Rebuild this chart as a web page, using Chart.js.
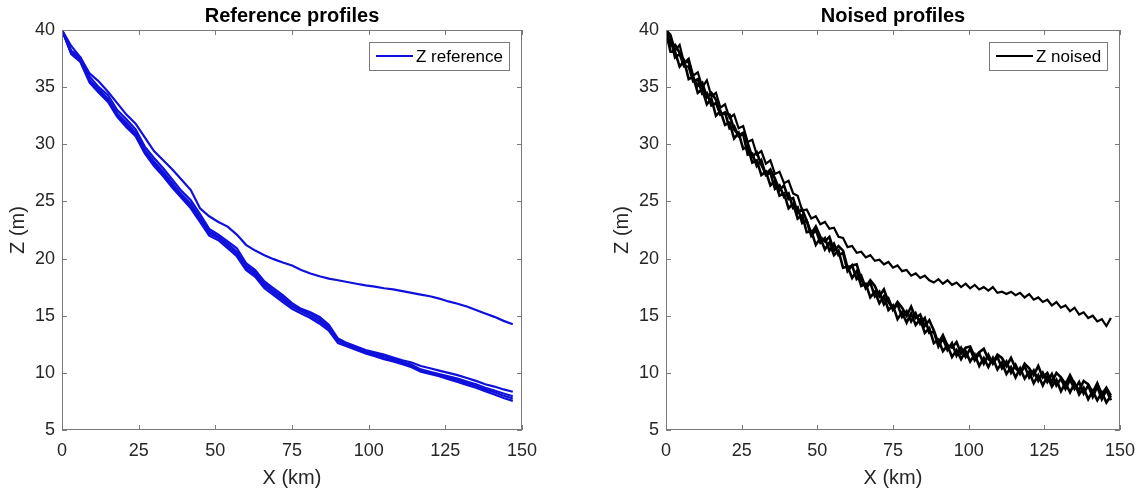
<!DOCTYPE html>
<html>
<head>
<meta charset="utf-8">
<script src="https://cdn.jsdelivr.net/npm/chart.js@4.4.1/dist/chart.umd.min.js"></script>
<style>
  body { margin: 0; background: #fff; }
  .panel { position: absolute; top: 0; height: 495px; }
  #left { left: 0; width: 584px; }
  #right { left: 604px; width: 541px; }
</style>
</head>
<body>
<div class="panel" id="left"><canvas id="refChart"></canvas></div>
<div class="panel" id="right"><canvas id="noiseChart"></canvas></div>
<script>
const X_TICKS = [0, 25, 50, 75, 100, 125, 150];
const Y_TICKS = [5, 10, 15, 20, 25, 30, 35, 40];

// distance along profile (km)
const xRef = [0,3,6,9,12,15,18,21,24,27,30,33,36,39,42,45,48,51,54,57,60,63,66,69,72,75,78,81,84,87,90,93,96,99,102,105,108,111,114,117,120,123,126,129,132,135,138,141,144,147];
const xNoise = [0,1.5,3,4.5,6,7.5,9,10.5,12,13.5,15,16.5,18,19.5,21,22.5,24,25.5,27,28.5,30,31.5,33,34.5,36,37.5,39,40.5,42,43.5,45,46.5,48,49.5,51,52.5,54,55.5,57,58.5,60,61.5,63,64.5,66,67.5,69,70.5,72,73.5,75,76.5,78,79.5,81,82.5,84,85.5,87,88.5,90,91.5,93,94.5,96,97.5,99,100.5,102,103.5,105,106.5,108,109.5,111,112.5,114,115.5,117,118.5,120,121.5,123,124.5,126,127.5,129,130.5,132,133.5,135,136.5,138,139.5,141,142.5,144,145.5,147];

// reference profiles (m)
const zRefUpper = [40.0,38.6,37.6,36.2,35.5,34.6,33.6,32.6,31.8,30.6,29.4,28.6,27.8,26.9,26.0,24.4,23.7,23.2,22.8,22.1,21.2,20.7,20.3,19.95,19.65,19.4,19.0,18.7,18.45,18.25,18.1,17.95,17.8,17.65,17.55,17.4,17.3,17.15,17.0,16.85,16.7,16.5,16.25,16.05,15.8,15.5,15.2,14.9,14.55,14.25];
const zRefLow1 = [40.0,38.2,37.6,35.9,35.0,34.3,33.0,32.2,31.3,29.8,28.8,27.9,26.9,25.9,25.1,23.9,22.6,22.1,21.5,20.9,19.6,19.0,18.0,17.4,16.8,16.1,15.6,15.3,14.9,14.2,13.0,12.6,12.3,12.0,11.8,11.6,11.35,11.1,10.9,10.6,10.4,10.2,10.0,9.8,9.55,9.3,9.0,8.8,8.55,8.35];
const zRefLow2 = [40.0,38.0,37.4,35.6,34.8,34.0,32.7,31.9,31.0,29.5,28.5,27.6,26.6,25.6,24.8,23.6,22.4,21.9,21.3,20.6,19.4,18.8,17.8,17.2,16.6,15.9,15.5,15.2,14.7,14.0,12.9,12.5,12.2,11.9,11.7,11.45,11.2,10.95,10.7,10.3,10.1,9.9,9.7,9.5,9.25,9.0,8.7,8.45,8.2,7.95];
const zRefLow3 = [40.0,38.0,37.3,35.5,34.6,33.9,32.5,31.7,30.8,29.3,28.3,27.4,26.4,25.5,24.6,23.4,22.2,21.8,21.1,20.4,19.2,18.6,17.6,17.0,16.4,15.8,15.4,15.0,14.5,13.9,12.8,12.4,12.1,11.8,11.55,11.3,11.1,10.85,10.6,10.2,10.0,9.8,9.6,9.35,9.1,8.85,8.55,8.3,8.0,7.75];
const zRefLow4 = [40.0,37.9,37.2,35.4,34.5,33.7,32.4,31.5,30.7,29.2,28.1,27.2,26.2,25.3,24.4,23.2,22.0,21.6,20.9,20.2,19.0,18.4,17.4,16.8,16.2,15.6,15.2,14.8,14.3,13.7,12.6,12.3,12.0,11.7,11.45,11.2,11.0,10.75,10.5,10.1,9.9,9.7,9.45,9.2,8.95,8.7,8.4,8.1,7.8,7.55];

// noised profiles (m)
const zNoiseUpper = [40.0,39.6,38.2,38.7,37.1,37.5,36.0,36.3,35.0,35.6,34.2,34.5,33.2,33.5,32.3,32.6,31.4,31.6,30.2,30.4,29.1,29.4,28.3,28.6,27.4,27.6,26.6,26.8,25.7,25.5,24.2,24.3,23.5,23.7,23.0,23.2,22.6,22.7,21.9,21.8,21.0,21.1,20.5,20.6,20.1,20.3,19.8,19.9,19.5,19.7,19.2,19.4,18.9,19.0,18.5,18.7,18.3,18.5,18.1,17.9,18.2,17.8,18.1,17.7,17.9,17.5,17.8,17.4,17.7,17.3,17.5,17.2,17.5,17.0,17.1,16.9,17.1,16.8,17.0,16.6,16.9,16.4,16.6,16.2,16.4,15.9,16.2,15.7,15.9,15.4,15.7,15.1,15.3,14.8,15.0,14.5,14.7,14.1,14.8];
const zNoiseLow1 = [40.0,39.3,37.6,37.9,36.8,36.8,35.5,35.7,34.4,34.5,33.4,33.6,32.6,32.8,31.4,31.6,30.7,30.9,29.1,29.2,28.1,28.6,27.3,27.5,26.1,26.4,25.4,25.7,24.4,24.5,23.1,23.3,22.0,22.5,21.4,21.8,20.7,21.3,20.3,20.5,18.9,19.4,18.2,18.5,17.4,17.9,16.7,17.1,16.0,16.5,15.5,16.0,14.9,15.4,14.5,15.2,14.3,14.8,13.5,13.6,12.3,13.0,12.0,12.6,11.5,12.2,11.4,12.1,11.1,11.7,10.8,11.6,10.8,11.4,10.4,11.0,10.0,10.7,9.9,10.6,9.6,10.2,9.3,10.0,9.2,9.9,8.9,9.5,8.6,9.4,8.6,9.2,8.2,8.9,7.9,8.8,7.7,8.5,7.6];
const zNoiseLow2 = [39.8,38.1,38.1,36.8,37.3,35.7,35.9,34.5,34.8,33.5,34.0,32.5,32.9,31.7,31.9,30.5,31.0,29.6,29.8,28.4,28.6,27.3,27.6,26.4,26.8,25.5,25.7,24.4,24.8,23.5,23.8,22.3,22.4,21.2,21.8,20.8,21.4,20.3,20.7,19.2,19.3,18.3,18.9,17.6,17.8,16.6,17.1,16.1,16.7,15.5,15.9,14.7,15.3,14.4,15.2,14.2,14.7,13.5,13.9,12.6,12.9,11.9,12.4,11.4,12.0,11.2,11.9,11.0,11.6,10.6,11.3,10.5,11.3,10.3,10.9,9.9,10.5,9.6,10.4,9.5,10.1,9.1,9.8,8.9,9.7,8.8,9.4,8.4,9.1,8.3,9.1,8.1,8.7,7.7,8.4,7.6,8.3,7.4,8.0];
const zNoiseLow3 = [40.0,38.6,38.7,38.0,37.2,37.2,35.8,35.1,35.4,34.1,34.5,33.9,32.6,32.7,32.6,31.3,30.8,31.0,30.1,28.9,29.3,28.2,27.4,27.8,27.0,26.0,26.4,25.2,25.3,24.0,24.3,23.3,22.2,22.8,21.9,21.5,21.9,20.7,21.1,20.7,19.2,19.4,19.5,18.2,17.5,18.1,17.6,16.7,17.3,16.2,15.6,16.2,15.7,15.0,15.8,14.8,15.1,14.1,14.6,13.7,12.6,13.3,12.4,12.2,12.7,11.7,12.2,12.3,11.4,11.8,12.1,11.2,10.9,11.6,11.3,10.6,11.3,10.4,10.0,10.8,10.4,9.8,10.6,9.6,10.0,9.2,10.0,9.6,9.0,9.8,9.0,8.5,9.3,9.0,8.3,9.1,8.1,8.7,8.0];

const FONT = '"Liberation Sans", Arial, Helvetica, sans-serif';
const AXIS_GREY = '#7a7a7a';
const TEXT_GREY = '#262626';

Chart.defaults.font.family = FONT;

function toPoints(xs, zs) {
    return xs.map((x, i) => ({ x: x, y: zs[i] }));
}

function profile(label, xs, zs, color, width) {
    return {
        label: label,
        data: toPoints(xs, zs),
        borderColor: color,
        backgroundColor: color,
        borderWidth: width,
        pointRadius: 0,
        tension: 0,
        fill: false,
    };
}

// box, inward ticks and legend the way MATLAB draws them
const matlabAxes = {
    id: 'matlabAxes',
    afterDraw(chart) {
        const { ctx, chartArea: a, scales: { x, y } } = chart;
        ctx.save();
        ctx.strokeStyle = AXIS_GREY;
        ctx.lineWidth = 1;
        ctx.strokeRect(a.left + 0.5, a.top + 0.5, a.right - a.left - 1, a.bottom - a.top - 1);
        ctx.beginPath();
        X_TICKS.forEach(v => {
            const px = Math.round(x.getPixelForValue(v)) + 0.5;
            ctx.moveTo(px, a.bottom); ctx.lineTo(px, a.bottom - 5);
            ctx.moveTo(px, a.top); ctx.lineTo(px, a.top + 5);
        });
        Y_TICKS.forEach(v => {
            const py = Math.round(y.getPixelForValue(v)) + 0.5;
            ctx.moveTo(a.left, py); ctx.lineTo(a.left + 5, py);
            ctx.moveTo(a.right, py); ctx.lineTo(a.right - 5, py);
        });
        ctx.stroke();

        const ds = chart.data.datasets[0];
        ctx.font = '17px ' + FONT;
        const tw = ctx.measureText(ds.label).width;
        const w = Math.round(7 + 37 + 3 + tw + 6), h = 28;
        const bx = Math.round(a.right - 13 - w), by = Math.round(a.top + 12);
        ctx.fillStyle = '#fff';
        ctx.fillRect(bx, by, w, h);
        ctx.strokeStyle = AXIS_GREY;
        ctx.strokeRect(bx + 0.5, by + 0.5, w, h);
        ctx.beginPath();
        ctx.strokeStyle = ds.borderColor;
        ctx.lineWidth = 2.2;
        ctx.moveTo(bx + 7, by + h / 2);
        ctx.lineTo(bx + 44, by + h / 2);
        ctx.stroke();
        ctx.fillStyle = '#000';
        ctx.textBaseline = 'middle';
        ctx.fillText(ds.label, bx + 47, by + h / 2 + 1);
        ctx.restore();
    }
};

function axisOptions(title) {
    return {
        responsive: true,
        maintainAspectRatio: false,
        animation: false,
        layout: { padding: { left: 0, right: 20, top: 0, bottom: 0 } },
        plugins: {
            legend: { display: false },
            tooltip: { enabled: false },
            title: {
                display: true,
                text: title,
                fullSize: false,
                color: '#000',
                font: { size: 20, weight: 'bold' },
                padding: { top: 4, bottom: 2 },
            },
        },
        scales: {
            x: {
                type: 'linear',
                min: 0,
                max: 150,
                afterBuildTicks: scale => { scale.ticks = X_TICKS.map(v => ({ value: v })); },
                afterFit: scale => { scale.height = 65; },
                grid: { display: false, drawTicks: false },
                border: { display: false },
                ticks: { color: TEXT_GREY, font: { size: 18 }, padding: 10, maxRotation: 0 },
                title: { display: true, text: 'X (km)', color: TEXT_GREY, font: { size: 20 }, padding: { top: 0, bottom: 5 } },
            },
            y: {
                type: 'linear',
                min: 5,
                max: 40,
                afterBuildTicks: scale => { scale.ticks = Y_TICKS.map(v => ({ value: v })); },
                afterFit: scale => { scale.width = 62; },
                grid: { display: false, drawTicks: false },
                border: { display: false },
                ticks: { color: TEXT_GREY, font: { size: 18 }, padding: 7 },
                title: { display: true, text: 'Z (m)', color: TEXT_GREY, font: { size: 20 }, padding: { top: 6, bottom: 0 } },
            },
        },
    };
}

const BLUE = '#1010dd';
const BLACK = '#000000';

const refOptions = axisOptions('Reference profiles');
refOptions.layout.padding.right = 62;

new Chart(document.getElementById('refChart'), {
    type: 'line',
    data: {
        datasets: [
            profile('Z reference', xRef, zRefUpper, BLUE, 2.2),
            profile('Z reference', xRef, zRefLow1, BLUE, 2.2),
            profile('Z reference', xRef, zRefLow2, BLUE, 2.2),
            profile('Z reference', xRef, zRefLow3, BLUE, 2.2),
            profile('Z reference', xRef, zRefLow4, BLUE, 2.2),
        ]
    },
    options: refOptions,
    plugins: [matlabAxes],
});

new Chart(document.getElementById('noiseChart'), {
    type: 'line',
    data: {
        datasets: [
            profile('Z noised', xNoise, zNoiseUpper, BLACK, 2.2),
            profile('Z noised', xNoise, zNoiseLow1, BLACK, 2.6),
            profile('Z noised', xNoise, zNoiseLow2, BLACK, 2.6),
            profile('Z noised', xNoise, zNoiseLow3, BLACK, 2.6),
        ]
    },
    options: axisOptions('Noised profiles'),
    plugins: [matlabAxes],
});
</script>
</body>
</html>
